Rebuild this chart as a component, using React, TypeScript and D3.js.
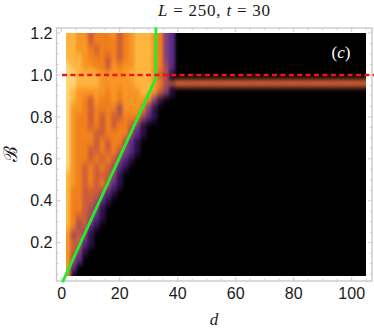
import React from 'react';
import * as d3 from 'd3';

const W = 374;
const H = 334;

// heat levels 0-9, columns are d = 2, 4, 6 ... 42, missing digits are 0
const colD = d3.range(2, 44, 2);
const rowB = [1.2, 1.16, 1.12, 1.08, 1.04, 1.0, 0.96, 0.92, 0.88, 0.84, 0.8, 0.76, 0.72, 0.68, 0.64, 0.6, 0.56, 0.52, 0.48, 0.44, 0.4, 0.36, 0.32, 0.28, 0.24, 0.2, 0.16, 0.12, 0.08, 0.04];
const heatRows = [
  '8877566675678887632',
  '8877566665678887632',
  '8877656665678887632',
  '8887666565678887632',
  '9887766576778887642',
  '9988887777788887541',
  '998888777777888764',
  '9877777676777887531',
  '98765766767777631',
  '9776566664777631',
  '9766565655666421',
  '97665656566531',
  '97666556666421',
  '9766656566421',
  '9766556565321',
  '976656565321',
  '97656565421',
  '8765655531',
  '8765656421',
  '866555421',
  '86655421',
  '8665431',
  '8655421',
  '864521',
  '74531',
  '75521',
  '7531',
  '742',
  '72',
  '6',
];

// the thin band right of the main block, at B = 0.96, d = 32, 34 ... 104
const bandD = d3.range(32, 106, 2);
const bandLevels = '5555555555555555555555555555555555555';
const bandB = 0.96;

// green boundary and the red reference line
const boundaryD = [0.3, 32.3, 32.5];
const boundaryB = [0.012, 0.98, 1.226];
const refB = 1.0;

const xTicks = [0, 20, 40, 60, 80, 100];
const yTicks = [0.2, 0.4, 0.6, 0.8, 1.0, 1.2];
const xMinor = d3.range(0, 106, 5);
const yMinor = d3.range(0.05, 1.21, 0.05);

const levelColors = ['#000000', '#2c1145', '#5a2c8c', '#83407c', '#a84c58', '#cd5e38', '#f2801c', '#f99624', '#ffb640', '#ffd678'];

const x = d3.scaleLinear().domain([0, 100]).range([61.7, 351.7]);
const y = d3.scaleLinear().domain([1.2, 0.2]).range([33, 242.7]);
const color = d3.scaleLinear<string>().domain(d3.range(10)).range(levelColors);

const frame = { left: 56.5, right: 372, top: 28, bottom: 281 };
const image = { left: 66, right: 366, top: 33, bottom: 276 };
const GREY = '#c6c6c6';

const boundaryLine = d3.line<number>()
  .x((d) => x(d))
  .y((_, i) => y(boundaryB[i]));

type Cell = { x0: number; x1: number; y0: number; y1: number; level: number };

const App = () => {
  const cells: Cell[] = [];
  heatRows.forEach((row, r) => {
    colD.forEach((d, c) => {
      const level = +(row[c] || 0);
      if (level === 0) return;
      cells.push({
        x0: x(c === 0 ? d - 5 : d - 1),
        x1: x(d + 1) + 0.5,
        y0: y(r === 0 ? rowB[r] + 0.08 : rowB[r] + 0.02),
        y1: y(rowB[r] - 0.02) + 0.5,
        level,
      });
    });
  });
  const band: Cell[] = bandD.map((d, c) => ({
    x0: x(d - 1),
    x1: x(d + (c === bandD.length - 1 ? 5 : 1)) + 0.5,
    y0: y(bandB + 0.02),
    y1: y(bandB - 0.02),
    level: +bandLevels[c],
  }));

  const drawCells = (list: Cell[]) => list.map((c, i) => (
    <rect key={i} x={c.x0} y={c.y0} width={c.x1 - c.x0} height={c.y1 - c.y0} fill={color(c.level)} />
  ));

  return (
    <svg width={W} height={H} style={{ position: 'absolute', left: 0, top: 0 }}>
      <defs>
        <clipPath id="img">
          <rect x={image.left} y={image.top} width={image.right - image.left} height={image.bottom - image.top} />
        </clipPath>
        <filter id="soft" filterUnits="userSpaceOnUse" x={0} y={0} width={W} height={H} colorInterpolationFilters="sRGB">
          <feGaussianBlur stdDeviation="1.5 3.6" />
        </filter>
        <filter id="softBand" filterUnits="userSpaceOnUse" x={0} y={0} width={W} height={H} colorInterpolationFilters="sRGB">
          <feGaussianBlur stdDeviation="1.5 2.4" />
        </filter>
      </defs>

      <g clipPath="url(#img)">
        <rect x={image.left} y={image.top} width={image.right - image.left} height={image.bottom - image.top} fill="#000" />
        <g filter="url(#softBand)">{drawCells(band)}</g>
        <g filter="url(#soft)">{drawCells(cells)}</g>
      </g>

      <rect x={frame.left} y={frame.top} width={frame.right - frame.left} height={frame.bottom - frame.top} fill="none" stroke={GREY} strokeWidth={1.3} />
      <g stroke={GREY} strokeWidth={0.9}>
        {xMinor.map((d) => {
          const len = d % 20 === 0 ? 4 : 2.2;
          return (
            <g key={d}>
              <line x1={x(d)} x2={x(d)} y1={frame.bottom} y2={frame.bottom - len} />
              <line x1={x(d)} x2={x(d)} y1={frame.top} y2={frame.top + len} />
            </g>
          );
        })}
        {yMinor.map((b) => {
          const len = Math.round(b * 20) % 4 === 0 ? 4 : 2.2;
          return (
            <g key={b}>
              <line y1={y(b)} y2={y(b)} x1={frame.left} x2={frame.left + len} />
              <line y1={y(b)} y2={y(b)} x1={frame.right} x2={frame.right - len} />
            </g>
          );
        })}
      </g>

      <path d={boundaryLine(boundaryD) as string} fill="none" stroke="#22ec2c" strokeWidth={2.8} strokeLinejoin="round" />
      <line x1={62} x2={374} y1={y(refB)} y2={y(refB)} stroke="#f2121a" strokeWidth={2.4} strokeDasharray="5 3.4" />

      <g fontFamily="'Liberation Sans', sans-serif" fontSize={16} fill="#1a1a1a">
        {xTicks.map((d) => (
          <text key={d} x={x(d)} y={298.5} textAnchor="middle">{d}</text>
        ))}
        {yTicks.map((b) => (
          <text key={b} x={52.5} y={y(b) + 5.7} textAnchor="end">{b.toFixed(1)}</text>
        ))}
      </g>

      <g fontFamily="'Liberation Serif', serif" fill="#1a1a1a">
        <text x={214} y={16} fontSize={17} textAnchor="middle" textLength={112}>
          <tspan fontStyle="italic">L</tspan> = 250, <tspan fontStyle="italic">t</tspan> = 30
        </text>
        <text x={214} y={325} fontSize={17} fontStyle="italic" textAnchor="middle">d</text>
        <text transform="translate(16.5,154) rotate(-90)" fontSize={19} textAnchor="middle" fontFamily="'DejaVu Serif', serif">ℬ</text>
        <text x={341} y={58} fontSize={17} fill="#ffffff" textAnchor="middle">
          (<tspan fontStyle="italic">c</tspan>)
        </text>
      </g>
    </svg>
  );
};

export default App;
